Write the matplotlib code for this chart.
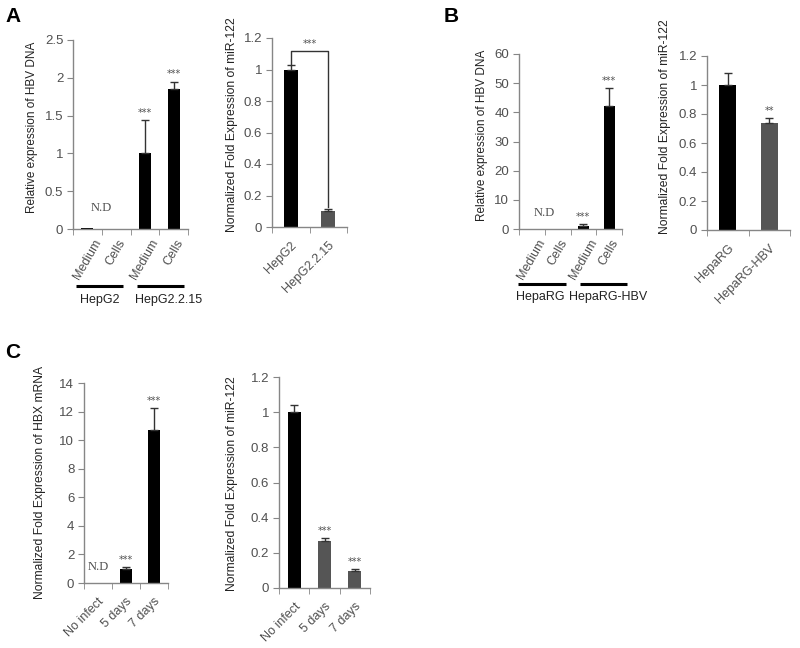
import numpy as np
import matplotlib
matplotlib.use("Agg")
import matplotlib.pyplot as plt
import matplotlib.transforms as mtransforms

plt.rcParams['font.family'] = ['Liberation Sans', 'DejaVu Sans']

# ---- data ----
a1_labels = ['Medium', 'Cells', 'Medium', 'Cells']
a1_vals = [0.008, 0.0, 1.0, 1.85]
a1_err = [0.0, 0.0, 0.44, 0.10]
a1_stars = ['', '', '***', '***']
# group name, label centre, line start, line end (category units)
a1_groups = [('HepG2', 0.42, -0.40, 1.24), ('HepG2.2.15', 2.84, 1.73, 3.36)]

a2_labels = ['HepG2', 'HepG2.2.15']
a2_vals = [1.0, 0.10]
a2_err = [0.03, 0.015]

b1_labels = ['Medium', 'Cells', 'Medium', 'Cells']
b1_vals = [0.0, 0.0, 1.0, 42.3]
b1_err = [0.0, 0.0, 0.8, 6.0]
b1_stars = ['', '', '***', '***']
b1_groups = [('HepaRG', 0.32, -0.54, 1.33), ('HepaRG-HBV', 2.96, 1.87, 3.69)]

b2_labels = ['HepaRG', 'HepaRG-HBV']
b2_vals = [1.0, 0.74]
b2_err = [0.08, 0.03]
b2_stars = ['', '**']

c1_labels = ['No infect', '5 days', '7 days']
c1_vals = [0.0, 1.0, 10.7]
c1_err = [0.0, 0.12, 1.55]
c1_stars = ['', '***', '***']

c2_labels = ['No infect', '5 days', '7 days']
c2_vals = [1.0, 0.27, 0.095]
c2_err = [0.04, 0.012, 0.012]
c2_stars = ['', '***', '***']

BLACK = '#000000'
GREY = '#555555'
AXC = '#868686'
TXT = '#505050'

W, H = 800, 648
fig = plt.figure(figsize=(8, 6.48), dpi=100)


def add_ax(x0, ytop, x1, ybot):
    return fig.add_axes([x0 / W, 1 - ybot / H, (x1 - x0) / W, (ybot - ytop) / H])


def style(ax, labels, ymax, ystep, rot, fmt):
    n = len(labels)
    ax.set_xlim(-0.5, n - 0.5)
    ax.set_ylim(0, ymax)
    for s in ['top', 'right']:
        ax.spines[s].set_visible(False)
    for s in ['left', 'bottom']:
        ax.spines[s].set_color(AXC)
        ax.spines[s].set_linewidth(1.0)
    yt = np.arange(0, ymax + ystep / 2, ystep)
    ax.set_yticks(yt)
    ax.set_yticklabels([fmt(v) for v in yt])
    ax.set_xticks(range(n))
    if rot == 60:
        # steep labels sit centred under their bar
        ax.set_xticklabels(labels, rotation=rot, ha='center')
        pad = 6
    else:
        ax.set_xticklabels(labels, rotation=rot, ha='right', rotation_mode='anchor')
        pad = 9
    ax.set_xticks(np.arange(-0.5, n, 1.0), minor=True)
    ax.tick_params(axis='x', which='major', length=0, pad=pad, labelsize=9, labelcolor=TXT)
    ax.tick_params(axis='x', which='minor', length=4, color=AXC, direction='out')
    ax.tick_params(axis='y', length=4, color=AXC, labelsize=9.5, labelcolor=TXT, pad=3)


def bars(ax, vals, err, colors, width, stars=None, star_size=7):
    x = np.arange(len(vals))
    ax.bar(x, vals, width=width, color=colors, linewidth=0, zorder=2)
    yerr = np.array([np.zeros(len(vals)), err])
    has = np.array(err) > 0
    ax.errorbar(x[has], np.array(vals)[has], yerr=yerr[:, has], fmt='none',
                ecolor='#333333', elinewidth=1, capsize=3, capthick=1, zorder=3)
    if stars:
        ymax = ax.get_ylim()[1]
        for i, s in enumerate(stars):
            if s:
                ax.text(i, vals[i] + err[i] + ymax * 0.012, s, ha='center', va='bottom',
                        fontsize=star_size, color=TXT, family='DejaVu Sans')


def groups(ax, grp, yline, ytext):
    tr = mtransforms.blended_transform_factory(ax.transData, ax.transAxes)
    for name, xc, x0, x1 in grp:
        ax.plot([x0, x1], [yline, yline], color='black', lw=2.2,
                transform=tr, clip_on=False, solid_capstyle='butt')
        ax.text(xc, ytext, name, transform=tr, ha='center', va='center',
                fontsize=9, color='#222222')


def ylabel(px, py, text, size=8.7):
    fig.text(px / W, 1 - py / H, text, rotation=90, ha='center', va='center',
             fontsize=size, color='#222222')


def nd(ax, x, y):
    ax.text(x, y, 'N.D', ha='center', va='center', fontsize=9, color=TXT,
            family='Liberation Serif')


def panel_letter(px, py, t):
    fig.text(px / W, 1 - py / H, t, ha='left', va='center', fontsize=15,
             fontweight='bold', color='black')


f1 = lambda v: ('%g' % round(v, 2))

# ---- A left ----
ax = add_ax(73, 40, 188, 229)
style(ax, a1_labels, 2.5, 0.5, 60, f1)
bars(ax, a1_vals, a1_err, [BLACK] * 4, 0.42, a1_stars)
nd(ax, 0.5, 0.28)
groups(ax, a1_groups, -0.30, -0.375)
ylabel(32, 127, 'Relative expression of HBV DNA', 8.5)

# ---- A right ----
ax = add_ax(272, 38, 347, 227)
style(ax, a2_labels, 1.2, 0.2, 45, f1)
bars(ax, a2_vals, a2_err, [BLACK, GREY], 0.37)
ytop = 1.12
ax.plot([0, 0, 1, 1], [a2_vals[0] + a2_err[0], ytop, ytop, a2_vals[1] + a2_err[1] + 0.01],
        color='#333333', lw=1, zorder=4)
ax.text(0.5, ytop + 0.01, '***', ha='center', va='bottom', fontsize=7, color=TXT,
        family='DejaVu Sans')
ylabel(232, 125, 'Normalized Fold Expression of miR-122')

# ---- B left ----
ax = add_ax(519, 54, 622, 229)
style(ax, b1_labels, 60, 10, 60, f1)
bars(ax, b1_vals, b1_err, [BLACK] * 4, 0.43, b1_stars)
nd(ax, 0.5, 5.5)
groups(ax, b1_groups, -0.315, -0.39)
ylabel(482, 135, 'Relative expression of HBV DNA', 8.5)

# ---- B right ----
ax = add_ax(707, 56, 790, 230)
style(ax, b2_labels, 1.2, 0.2, 45, f1)
bars(ax, b2_vals, b2_err, [BLACK, GREY], 0.4, b2_stars)
ylabel(665, 127, 'Normalized Fold Expression of miR-122')

# ---- C left ----
ax = add_ax(84, 383, 168, 583)
style(ax, c1_labels, 14, 2, 45, f1)
bars(ax, c1_vals, c1_err, [BLACK] * 3, 0.43, c1_stars)
nd(ax, 0.0, 1.1)
ylabel(40, 482, 'Normalized Fold Expression of HBX mRNA')

# ---- C right ----
ax = add_ax(279, 377, 370, 588)
style(ax, c2_labels, 1.2, 0.2, 45, f1)
bars(ax, c2_vals, c2_err, [BLACK, GREY, GREY], 0.43, c2_stars)
ylabel(232, 484, 'Normalized Fold Expression of miR-122')

panel_letter(5, 16, 'A')
panel_letter(444, 16, 'B')
panel_letter(5, 352, 'C')

fig.savefig('out.png', dpi=100, facecolor='white')
